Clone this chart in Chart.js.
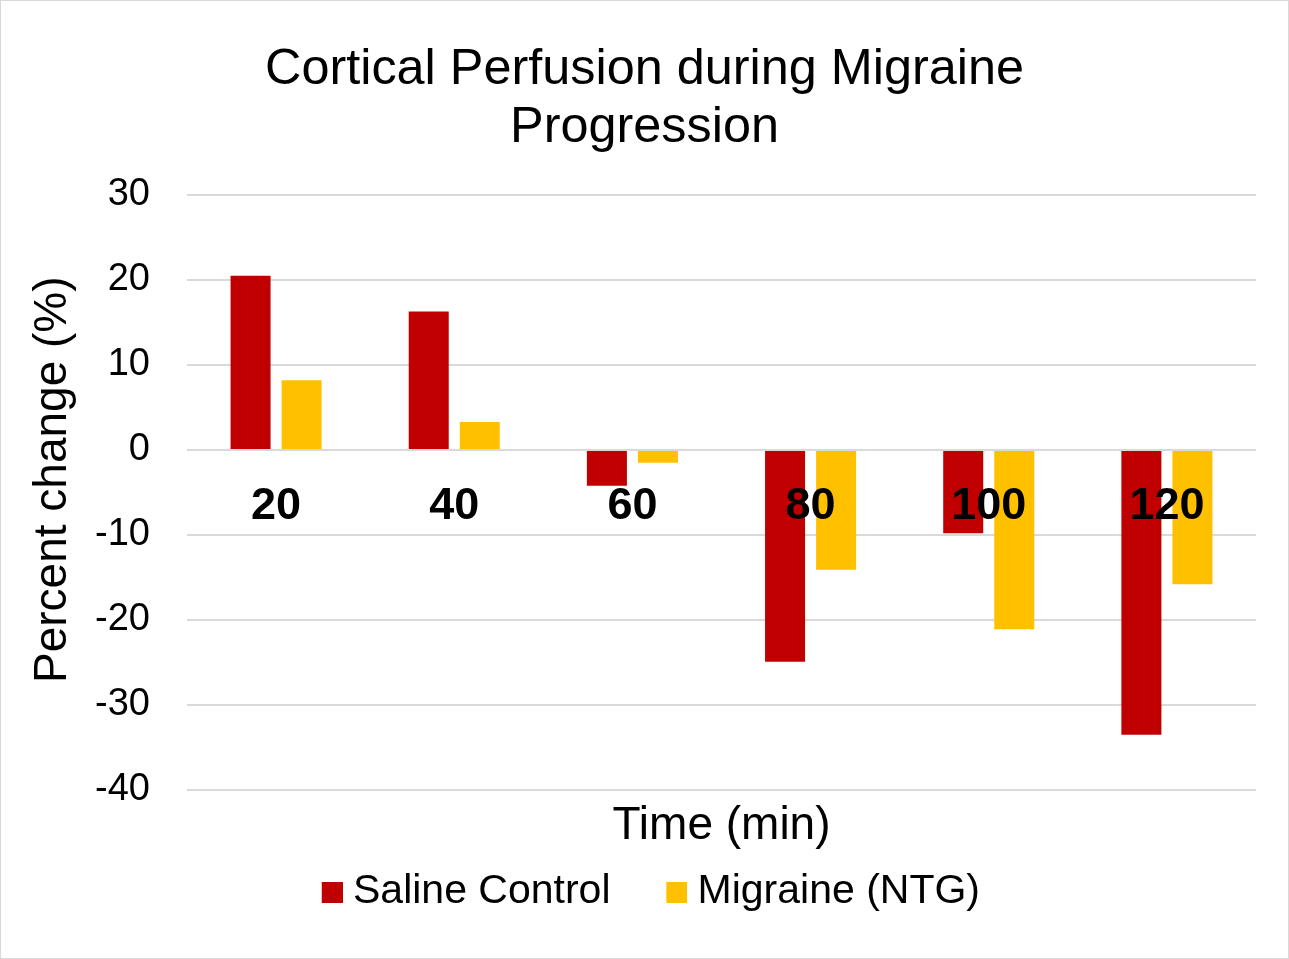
<!DOCTYPE html>
<html>
<head>
<meta charset="utf-8">
<script src="https://cdn.jsdelivr.net/npm/chart.js@4/dist/chart.umd.min.js"></script>
<style>
  html, body { margin: 0; padding: 0; background: #fff; }
  #wrap { width: 1289px; height: 959px; box-sizing: border-box; border: 1px solid #d9d9d9; background: #fff; }
  canvas { display: block; }
</style>
</head>
<body>
<div id="wrap"><canvas id="c" width="1287" height="957"></canvas></div>
<script>
const categories = ['20', '40', '60', '80', '100', '120'];
const salineControl = [20.5, 16.3, -4.2, -24.9, -9.8, -33.5];
const migraineNTG = [8.2, 3.3, -1.5, -14.1, -21.1, -15.8];
const yTicks = { min: -40, max: 30, step: 10 };
const titleLines = ['Cortical Perfusion during Migraine', 'Progression'];
const yTitle = '  Percent change (%)';
const xTitle = 'Time (min)';
const seriesColors = ['#C00000', '#FFC000'];

const FONT = "'Liberation Sans', Arial, sans-serif";

// legend marker: square placed at the right side of a small transparent canvas
function marker(color) {
  const c = document.createElement('canvas');
  c.width = 44; c.height = 21;
  const g = c.getContext('2d');
  g.fillStyle = color;
  g.fillRect(23, 0, 21, 21);
  return c;
}
const markers = seriesColors.map(marker);

new Chart(document.getElementById('c'), {
  type: 'bar',
  data: {
    labels: categories,
    datasets: [
      { label: 'Saline Control', data: salineControl, backgroundColor: seriesColors[0],
        barPercentage: 0.784, categoryPercentage: 0.573 },
      { label: 'Migraine (NTG)', data: migraineNTG, backgroundColor: seriesColors[1],
        barPercentage: 0.784, categoryPercentage: 0.573 }
    ]
  },
  options: {
    responsive: false,
    animation: false,
    devicePixelRatio: 1,
    layout: { padding: { top: 0, left: 32, right: 32, bottom: 35.5 } },
    plugins: {
      title: {
        display: true,
        text: titleLines,
        color: '#000',
        font: { family: FONT, size: 50.4, weight: 'normal', lineHeight: '58px' },
        padding: { top: 40, bottom: 38 }
      },
      legend: {
        position: 'bottom',
        labels: {
          color: '#000',
          font: { family: FONT, size: 41 },
          usePointStyle: true,
          boxWidth: 23.5, boxHeight: 21,
          padding: 43,
          generateLabels: (chart) =>
            Chart.defaults.plugins.legend.labels.generateLabels(chart)
              .map((l, i) => Object.assign(l, { pointStyle: markers[i] }))
        }
      },
      tooltip: { enabled: false }
    },
    scales: {
      x: {
        type: 'category',
        position: { y: 0 },
        grid: { display: false, drawTicks: false },
        border: { display: false },
        ticks: {
          color: '#000',
          font: { family: FONT, size: 45, weight: 'bold', lineHeight: 1.2 },
          padding: 30,
          z: 1,
          autoSkip: false,
          maxRotation: 0
        }
      },
      x2: {
        type: 'category',
        labels: categories,
        position: 'bottom',
        grid: { display: false, drawTicks: false },
        border: { display: false },
        ticks: { display: false },
        title: {
          display: true,
          text: xTitle,
          color: '#000',
          font: { family: FONT, size: 46, lineHeight: 1.2 },
          padding: { top: 8, bottom: -25.1 }
        },
        afterFit: (s) => { s.height = 38.5; }
      },
      y: {
        min: yTicks.min,
        max: yTicks.max,
        grid: { color: '#d9d9d9', lineWidth: 2, drawTicks: false },
        border: { display: false },
        ticks: {
          stepSize: yTicks.step,
          color: '#000',
          font: { family: FONT, size: 38 },
          padding: 37
        },
        title: {
          display: true,
          text: yTitle,
          color: '#000',
          font: { family: FONT, size: 46, lineHeight: 1.2 },
          padding: { top: -7.5, bottom: 4 }
        },
        afterFit: (s) => { s.width = 154; }
      }
    }
  }
});
</script>
</body>
</html>
